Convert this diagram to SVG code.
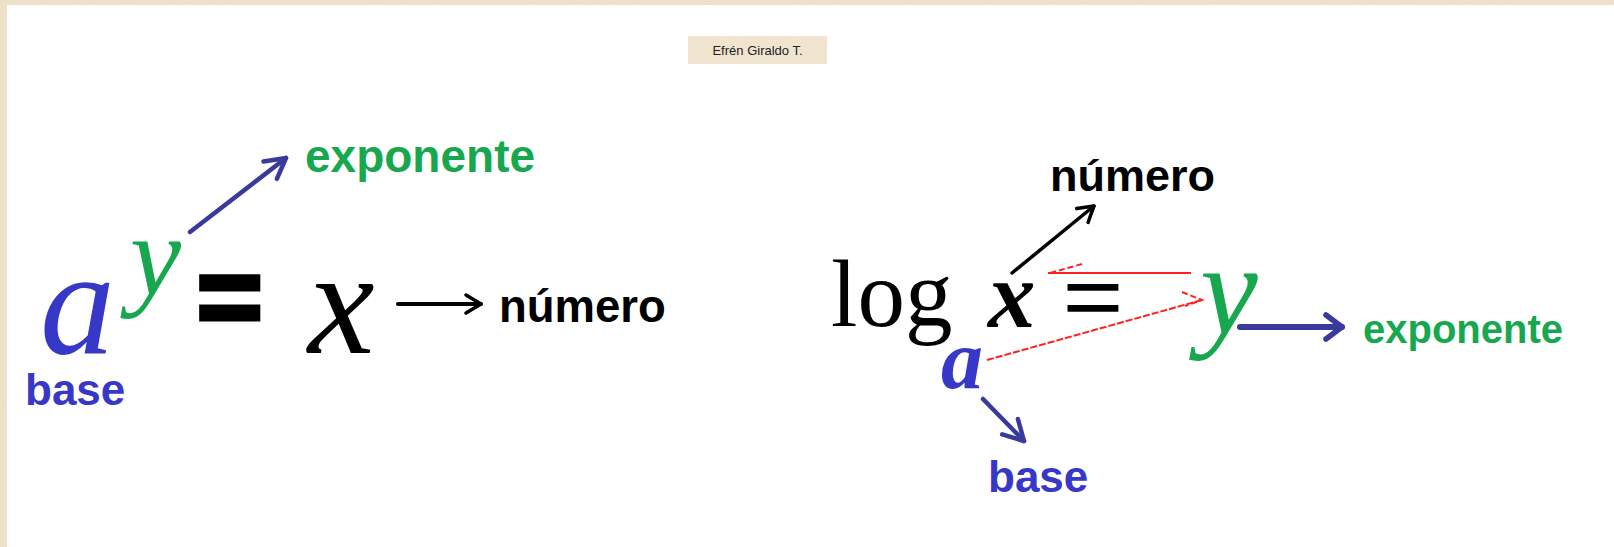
<svg xmlns="http://www.w3.org/2000/svg" width="1614" height="547" viewBox="0 0 1614 547">
<style>
.sans{font-family:"Liberation Sans",Arial,sans-serif;font-weight:bold}
.serif{font-family:"Liberation Serif","Times New Roman",serif}
.it{font-style:italic}
.blue{fill:#3838c8}
.green{fill:#17a84f}
.black{fill:#000}
.conn{fill:none;stroke-linecap:round}
</style>
<defs>
<filter id="grain" x="0" y="0" width="100%" height="100%">
<feTurbulence type="fractalNoise" baseFrequency="0.6" numOctaves="2" seed="3"/>
<feColorMatrix type="matrix" values="0 0 0 0 0.85  0 0 0 0 0.74  0 0 0 0 0.56  0 0 0 2.2 -0.8"/>
</filter>
<marker id="hBlack" markerUnits="userSpaceOnUse" markerWidth="40" markerHeight="40" refX="0" refY="0" viewBox="-30 -20 40 40" orient="auto">
<path d="M-15,-9 L0,0 L-15,9" fill="none" stroke="#000" stroke-width="3.5" stroke-linecap="round" stroke-linejoin="round"/>
</marker>
<marker id="hBlue" markerUnits="userSpaceOnUse" markerWidth="50" markerHeight="50" refX="0" refY="0" viewBox="-35 -25 50 50" orient="auto">
<path d="M-20,-11 L0,0 L-20,11" fill="none" stroke="#3a3a9e" stroke-width="4.5" stroke-linecap="round" stroke-linejoin="round"/>
</marker>
<marker id="hBlueBig" markerUnits="userSpaceOnUse" markerWidth="50" markerHeight="50" refX="0" refY="0" viewBox="-35 -25 50 50" orient="auto">
<path d="M-16,-12 L0,0 L-16,12" fill="none" stroke="#3a3a9e" stroke-width="5.5" stroke-linecap="round" stroke-linejoin="round"/>
</marker>
</defs>

<!-- background -->
<rect x="0" y="0" width="1614" height="547" fill="#ffffff"/>
<g id="border">
<rect x="0" y="0" width="1614" height="5" fill="#efe2cc"/>
<rect x="0" y="0" width="7" height="547" fill="#efe2cc"/>
<rect x="0" y="0" width="1614" height="5" filter="url(#grain)"/>
<rect x="0" y="0" width="7" height="547" filter="url(#grain)"/>
</g>

<g id="author">
<rect x="688" y="36" width="139" height="28" fill="#f1e6d3"/>
<rect x="688" y="36" width="139" height="28" filter="url(#grain)" opacity="0.7"/>
<text x="757.5" y="55" text-anchor="middle" font-family="Liberation Sans, Arial, sans-serif" font-size="13" fill="#222">Efrén Giraldo T.</text>
</g>

<!-- left equation -->
<g id="left-a"><text class="serif it blue" x="40" y="353" font-size="150">a</text></g>
<g id="left-y"><text class="serif it green" x="130" y="295" font-size="115">y</text></g>
<g id="left-eq"><text class="sans black" x="197" y="335" font-size="112" stroke="#000" stroke-width="5">=</text></g>
<g id="left-x"><text class="serif it black" x="308" y="353" font-size="150">x</text></g>
<g id="left-numero"><text class="sans black" x="499" y="322" font-size="45.5">número</text></g>
<g id="left-exponente"><text class="sans green" x="305" y="172" font-size="46">exponente</text></g>
<g id="left-base"><text class="sans blue" x="25" y="405" font-size="44">base</text></g>

<!-- right equation -->
<g id="right-log"><text class="serif black" x="831" y="326" font-size="95">log</text></g>
<g id="right-x"><text class="serif it black" x="988" y="327" font-size="95" font-weight="bold">x</text></g>
<g id="right-eq"><text class="serif black" x="1063" y="333" font-size="106" stroke="#000" stroke-width="1.5">=</text></g>
<g id="right-y"><text class="serif it green" x="1200" y="333" font-size="130">y</text></g>
<g id="right-a"><text class="serif it blue" x="941" y="388" font-size="84" font-weight="bold">a</text></g>
<g id="right-numero"><text class="sans black" x="1050" y="191" font-size="45">número</text></g>
<g id="right-exponente"><text class="sans green" x="1363" y="343" font-size="40">exponente</text></g>
<g id="right-base"><text class="sans blue" x="988" y="492" font-size="44">base</text></g>

<g id="connectors">
<!-- left -->
<line class="conn" x1="398" y1="304" x2="481" y2="304" stroke="#000" stroke-width="4" marker-end="url(#hBlack)"/>
<line class="conn" x1="190" y1="232" x2="286" y2="158" stroke="#3a3a9e" stroke-width="4.5" marker-end="url(#hBlue)"/>
<!-- right -->
<line class="conn" x1="1012" y1="273" x2="1094" y2="206" stroke="#000" stroke-width="3.5" marker-end="url(#hBlack)"/>
<line class="conn" x1="983" y1="399" x2="1024" y2="441" stroke="#3a3a9e" stroke-width="4.5" marker-end="url(#hBlue)"/>
<line class="conn" x1="1240" y1="327" x2="1342" y2="327" stroke="#3a3a9e" stroke-width="6" marker-end="url(#hBlueBig)"/>
<line x1="1048" y1="273" x2="1191" y2="273" stroke="#ff2020" stroke-width="2"/>
<path d="M1082,264 L1050,273" fill="none" stroke="#ff2020" stroke-width="2" stroke-dasharray="6 3"/>
<path d="M987,360 L1202,300" fill="none" stroke="#ff2020" stroke-width="2" stroke-dasharray="7 2"/>
<path d="M1182,292 L1202,300 L1185,306" fill="none" stroke="#ff2020" stroke-width="2" stroke-dasharray="6 3"/>
</g>
</svg>
